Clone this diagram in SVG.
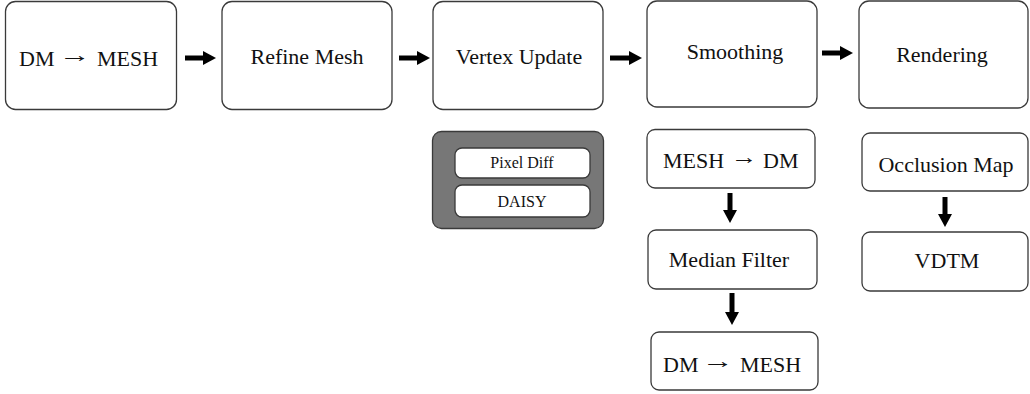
<svg xmlns="http://www.w3.org/2000/svg" width="1030" height="394" viewBox="0 0 1030 394">
<style>
.box{fill:#fff;stroke:#3a3a3a;stroke-width:1.3}
.gray{fill:#777;stroke:#3a3a3a;stroke-width:1.3}
.t{font-family:"Liberation Serif","Times New Roman",serif;font-size:22px;fill:#111}
.s{font-family:"Liberation Serif","Times New Roman",serif;font-size:16px;fill:#111}
.m{text-anchor:middle}
.arr{stroke:#000;stroke-width:5;fill:none;marker-end:url(#ah)}
</style>
<defs>
<marker id="ah" markerUnits="userSpaceOnUse" markerWidth="14" markerHeight="16" refX="0" refY="7" orient="auto" overflow="visible">
<path d="M0,0 L13,7 L0,14 Z" fill="#000"/>
</marker>
</defs>
<g id="n1"><rect class="box" x="5.5" y="1.5" width="171" height="108" rx="10"/>
<text class="t" x="19" y="66">DM</text>
<text class="t" transform="translate(59,62) scale(1.45,1)">→</text>
<text class="t" x="97" y="66">MESH</text></g>
<g id="n2"><rect class="box" x="222" y="1.5" width="170" height="108" rx="10"/>
<text class="t m" x="307" y="64">Refine Mesh</text></g>
<g id="n3"><rect class="box" x="433" y="1.5" width="170" height="108" rx="10"/>
<text class="t m" x="519" y="64">Vertex Update</text></g>
<g id="n4"><rect class="box" x="647" y="1" width="170" height="106" rx="10"/>
<text class="t m" x="735" y="59">Smoothing</text></g>
<g id="n5"><rect class="box" x="859" y="1" width="169" height="107" rx="10"/>
<text class="t m" x="942" y="62">Rendering</text></g>
<g id="n6"><rect class="gray" x="432.5" y="131.5" width="171" height="97" rx="9"/></g>
<g id="n7"><rect class="box" x="455" y="148" width="135" height="30" rx="7"/>
<text class="s m" x="522" y="168">Pixel Diff</text></g>
<g id="n8"><rect class="box" x="455" y="185" width="135" height="32" rx="7"/>
<text class="s m" x="522" y="207">DAISY</text></g>
<g id="n9"><rect class="box" x="647" y="129.5" width="168" height="58.5" rx="8"/>
<text class="t" x="663" y="168">MESH</text>
<text class="t" transform="translate(731,164) scale(1.2,1)">→</text>
<text class="t" x="763" y="168">DM</text></g>
<g id="n10"><rect class="box" x="648" y="230" width="169" height="59" rx="8"/>
<text class="t m" x="729" y="267">Median Filter</text></g>
<g id="n11"><rect class="box" x="651" y="332" width="167" height="58" rx="8"/>
<text class="t" x="663" y="372">DM</text>
<text class="t" transform="translate(702,368) scale(1.45,1)">→</text>
<text class="t" x="740" y="372">MESH</text></g>
<g id="n12"><rect class="box" x="862" y="133" width="166" height="58" rx="8"/>
<text class="t m" x="946" y="172">Occlusion Map</text></g>
<g id="n13"><rect class="box" x="862" y="232" width="166" height="59" rx="8"/>
<text class="t m" x="947" y="268">VDTM</text></g>
<g id="connectors">
<line class="arr" x1="185" y1="58" x2="203" y2="58"/>
<line class="arr" x1="399" y1="58" x2="417" y2="58"/>
<line class="arr" x1="610" y1="58" x2="629" y2="58"/>
<line class="arr" x1="822" y1="53" x2="840" y2="53"/>
<line class="arr" x1="730" y1="193" x2="730" y2="210"/>
<line class="arr" x1="732" y1="293" x2="732" y2="312"/>
<line class="arr" x1="945" y1="197" x2="945" y2="214"/>
</g>
</svg>
